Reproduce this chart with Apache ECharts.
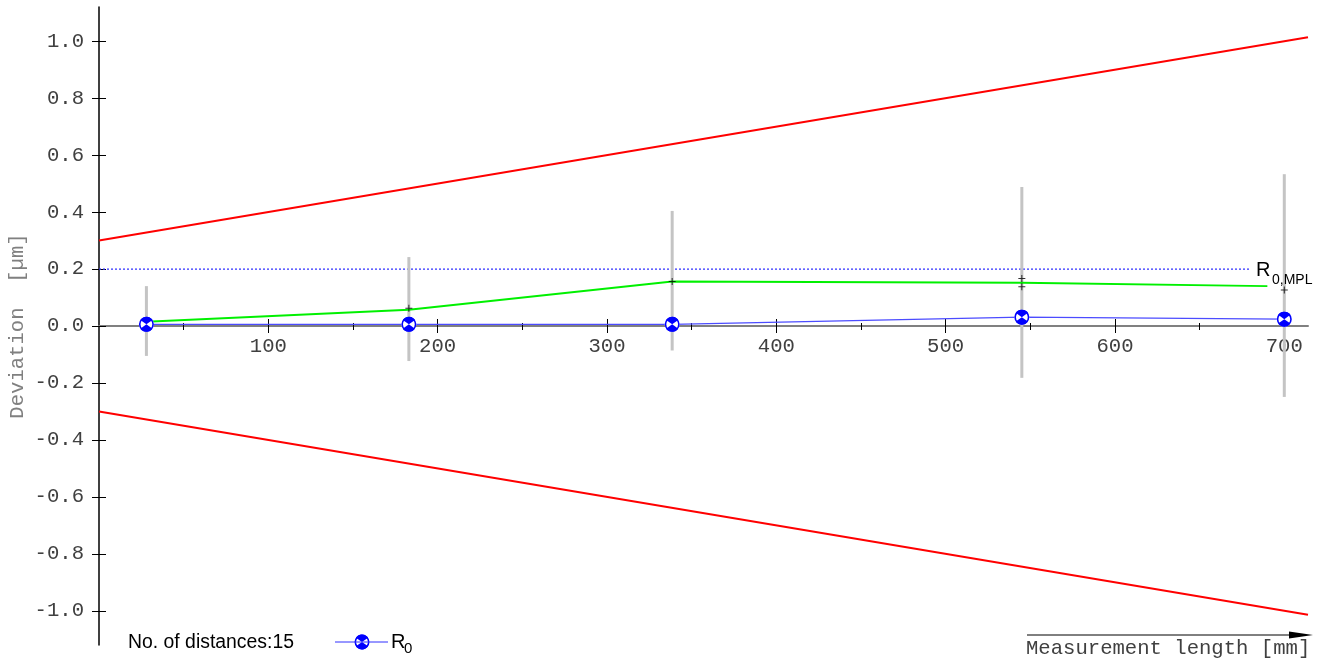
<!DOCTYPE html>
<html>
<head>
<meta charset="utf-8">
<title>Deviation vs measurement length</title>
<script src="https://cdn.jsdelivr.net/npm/echarts@6/dist/echarts.min.js"></script>
<style>
  html, body { margin: 0; padding: 0; background: #ffffff; }
  #chart { width: 1324px; height: 661px; }
</style>
</head>
<body>
<div id="chart"></div>
<script>
// Measured step positions [mm] and the R0 deviation at each step [µm]
const stepLength = [28, 183, 338.5, 545, 700];
const r0Deviation = [0.006, 0.006, 0.006, 0.031, 0.024];

// Spread of the single readings at each step (low / high end of the grey bar)
const spreadLow = [-0.105, -0.123, -0.086, -0.182, -0.249];
const spreadHigh = [0.140, 0.242, 0.404, 0.488, 0.533];

// Upper envelope (green) and its individual crosses
const envelopeLength = [28, 183, 338.5, 545, 690];
const envelopeValue = [0.015, 0.057, 0.156, 0.152, 0.140];
const crossLength = [183, 338.5, 545, 545, 700];
const crossValue = [0.062, 0.156, 0.167, 0.138, 0.126];

// Maximum permissible error limits (end points of the two red lines)
const mplLength = [0, 714];
const mplUpper = [0.30, 1.014];
const mplLower = [-0.30, -1.014];

// R0,MPL reference level
const r0MplLength = [0, 680];
const r0MplValue = [0.2, 0.2];

// Axis ticks and labels
const yTickValues = [-1.0, -0.8, -0.6, -0.4, -0.2, 0.0, 0.2, 0.4, 0.6, 0.8, 1.0];
const xMajorTicks = [100, 200, 300, 400, 500, 600, 700];
const xMinorTicks = [50, 150, 250, 350, 450, 550, 650];
const distanceCount = 15;

const zip = (xs, ys) => xs.map((x, i) => [x, ys[i]]);

const MONO = '"Liberation Mono", "DejaVu Sans Mono", monospace';
const SANS = '"Liberation Sans", Arial, sans-serif';
const BLUE = '#0000ff';
const PLUS = 'path://M3,0H4V7H3ZM0,3H7V4H0Z';
const MONO_SIZE = 20.6;

const X_MIN = 0, X_MAX = 714, Y_MIN = -1.12, Y_MAX = 1.12;

// plot area; the upper-half grid ends exactly on the zero line and carries the length axis
const PLOT = { left: 99, right: 16, top: 7, bottom: 16 };
const ZERO_FROM_TOP = PLOT.top + (661 - PLOT.top - PLOT.bottom) * Y_MAX / (Y_MAX - Y_MIN);
const ZERO_FROM_BOTTOM = 661 - ZERO_FROM_TOP;

function xAxisBase(extra) {
  return Object.assign({
    type: 'value', min: X_MIN, max: X_MAX, position: 'bottom', gridIndex: 1,
    axisLine: { show: false, onZero: false },
    axisLabel: { show: false },
    splitLine: { show: false },
    axisTick: { show: false }
  }, extra);
}
function yAxisBase(extra) {
  return Object.assign({
    type: 'value', min: Y_MIN, max: Y_MAX, position: 'left', gridIndex: 0,
    axisLine: { show: false, onZero: false },
    axisLabel: { show: false },
    splitLine: { show: false },
    axisTick: { show: false }
  }, extra);
}

// R0 marker: white disc, blue ring, blue top and bottom wedges
const WEDGE = 0.62; // half-opening of the white side wedges, radians
function markerShapes(cx, cy, r, z) {
  return [
    { type: 'circle', z2: z, shape: { cx: cx, cy: cy, r: r }, style: { fill: '#fff' } },
    { type: 'ring', z2: z + 1, shape: { cx: cx, cy: cy, r: r, r0: r - 1.6 }, style: { fill: BLUE } },
    { type: 'sector', z2: z + 1, shape: { cx: cx, cy: cy, r: r, r0: 0, startAngle: -Math.PI + WEDGE, endAngle: -WEDGE }, style: { fill: BLUE } },
    { type: 'sector', z2: z + 1, shape: { cx: cx, cy: cy, r: r, r0: 0, startAngle: WEDGE, endAngle: Math.PI - WEDGE }, style: { fill: BLUE } }
  ];
}

const chart = echarts.init(document.getElementById('chart'), null, { renderer: 'canvas' });

chart.setOption({
  animation: false,
  backgroundColor: '#ffffff',
  grid: [
    Object.assign({ containLabel: false, outerBoundsMode: 'none' }, PLOT),
    { left: PLOT.left, right: PLOT.right, top: PLOT.top, bottom: ZERO_FROM_BOTTOM, containLabel: false, outerBoundsMode: 'none' }
  ],
  xAxis: [
    // data axis of the main plot
    {
      type: 'value', min: X_MIN, max: X_MAX, gridIndex: 0, show: false,
      splitLine: { show: false }
    },
    xAxisBase({
      axisLine: { show: true, onZero: false, lineStyle: { color: '#808080', width: 2 } },
      axisTick: { show: true, length: 7, customValues: xMajorTicks, lineStyle: { color: '#000', width: 1 } },
      axisLabel: {
        show: true, customValues: xMajorTicks, margin: 10,
        fontFamily: MONO, fontSize: MONO_SIZE, color: '#404040'
      }
    }),
    xAxisBase({
      axisTick: { show: true, inside: true, length: 7, customValues: xMajorTicks, lineStyle: { color: '#000', width: 1 } }
    }),
    xAxisBase({
      axisTick: { show: true, length: 4, customValues: xMinorTicks, lineStyle: { color: '#000', width: 1 } }
    }),
    xAxisBase({
      axisTick: { show: true, inside: true, length: 3, customValues: xMinorTicks, lineStyle: { color: '#000', width: 1 } }
    })
  ],
  yAxis: [
    yAxisBase({
      axisLine: { show: true, onZero: false, lineStyle: { color: '#000', width: 1.5 } },
      axisTick: { show: true, length: 7, customValues: yTickValues, lineStyle: { color: '#000', width: 1 } },
      axisLabel: {
        show: true, customValues: yTickValues, margin: 15,
        fontFamily: MONO, fontSize: MONO_SIZE, color: '#404040',
        formatter: v => v.toFixed(1)
      }
    }),
    yAxisBase({
      axisTick: { show: true, inside: true, length: 7, customValues: yTickValues, lineStyle: { color: '#000', width: 1 } }
    }),
    { type: 'value', min: 0, max: Y_MAX, gridIndex: 1, show: false, splitLine: { show: false } }
  ],
  series: [
    {
      name: 'MPL upper', type: 'line', data: zip(mplLength, mplUpper),
      symbol: 'none', silent: true, z: 2,
      lineStyle: { color: '#ff0000', width: 2 }
    },
    {
      name: 'MPL lower', type: 'line', data: zip(mplLength, mplLower),
      symbol: 'none', silent: true, z: 2,
      lineStyle: { color: '#ff0000', width: 2 }
    },
    {
      name: 'R0,MPL', type: 'line', data: zip(r0MplLength, r0MplValue),
      symbol: 'none', silent: true, z: 2,
      lineStyle: { color: '#3030ff', width: 1.2, type: [2, 2] }
    },
    {
      name: 'Spread', type: 'custom', z: 3, silent: true,
      data: stepLength.map((x, i) => [x, spreadLow[i], spreadHigh[i]]),
      renderItem: function (params, api) {
        const lo = api.coord([api.value(0), api.value(1)]);
        const hi = api.coord([api.value(0), api.value(2)]);
        return {
          type: 'line',
          shape: { x1: lo[0], y1: lo[1], x2: hi[0], y2: hi[1] },
          style: { stroke: '#c4c4c4', lineWidth: 3 }
        };
      }
    },
    {
      name: 'Envelope', type: 'line', data: zip(envelopeLength, envelopeValue),
      symbol: 'none', silent: true, z: 4,
      lineStyle: { color: '#00f000', width: 2 }
    },
    {
      name: 'Crosses', type: 'scatter', data: zip(crossLength, crossValue),
      symbol: PLUS, symbolSize: 7, silent: true, z: 5,
      itemStyle: { color: '#000000' }
    },
    {
      name: 'R0', type: 'line', data: zip(stepLength, r0Deviation),
      symbol: 'none', silent: true, z: 6,
      lineStyle: { color: '#4c4cff', width: 1.2 }
    },
    {
      name: 'R0 marker', type: 'custom', z: 7, silent: true,
      data: zip(stepLength, r0Deviation),
      renderItem: function (params, api) {
        const p = api.coord([api.value(0), api.value(1)]);
        return { type: 'group', children: markerShapes(p[0], p[1], 7.5, 1) };
      }
    }
  ],
  graphic: [
    // vertical axis caption
    { type: 'text', x: 18, y: ZERO_FROM_TOP, rotation: Math.PI / 2, z: 10,
      style: { text: 'Deviation  [\u00b5m]', font: MONO_SIZE + 'px ' + MONO, fill: '#808080',
               align: 'center', verticalAlign: 'middle' } },
    // level label of the dotted line
    { type: 'text', x: 1256, y: 260, z: 10,
      style: { text: 'R', font: '20px ' + SANS, fill: '#000' } },
    { type: 'text', x: 1272, y: 273, z: 10,
      style: { text: '0,MPL', font: '14px ' + SANS, fill: '#000' } },
    // footer: number of distances and legend
    { type: 'text', x: 128, y: 633, z: 10,
      style: { text: 'No. of distances:' + distanceCount, font: '19.4px ' + SANS, fill: '#000' } },
    { type: 'line', z: 10, shape: { x1: 335, y1: 642, x2: 388, y2: 642 },
      style: { stroke: '#3030ff', lineWidth: 1 } },
    { type: 'group', z: 11, children: markerShapes(362, 642, 7.5, 1) },
    { type: 'text', x: 391, y: 632, z: 10,
      style: { text: 'R', font: '20px ' + SANS, fill: '#000' } },
    { type: 'text', x: 404, y: 641, z: 10,
      style: { text: '0', font: '15px ' + SANS, fill: '#000' } },
    // x-axis caption with arrow
    { type: 'line', z: 10, shape: { x1: 1027, y1: 635, x2: 1295, y2: 635 },
      style: { stroke: '#000', lineWidth: 1 } },
    { type: 'polygon', z: 10, shape: { points: [[1289, 631.5], [1313, 635], [1289, 638.5]] },
      style: { fill: '#000' } },
    { type: 'text', x: 1026, y: 638, z: 10,
      style: { text: 'Measurement length [mm]', font: MONO_SIZE + 'px ' + MONO, fill: '#404040' } }
  ]
});
</script>
</body>
</html>
